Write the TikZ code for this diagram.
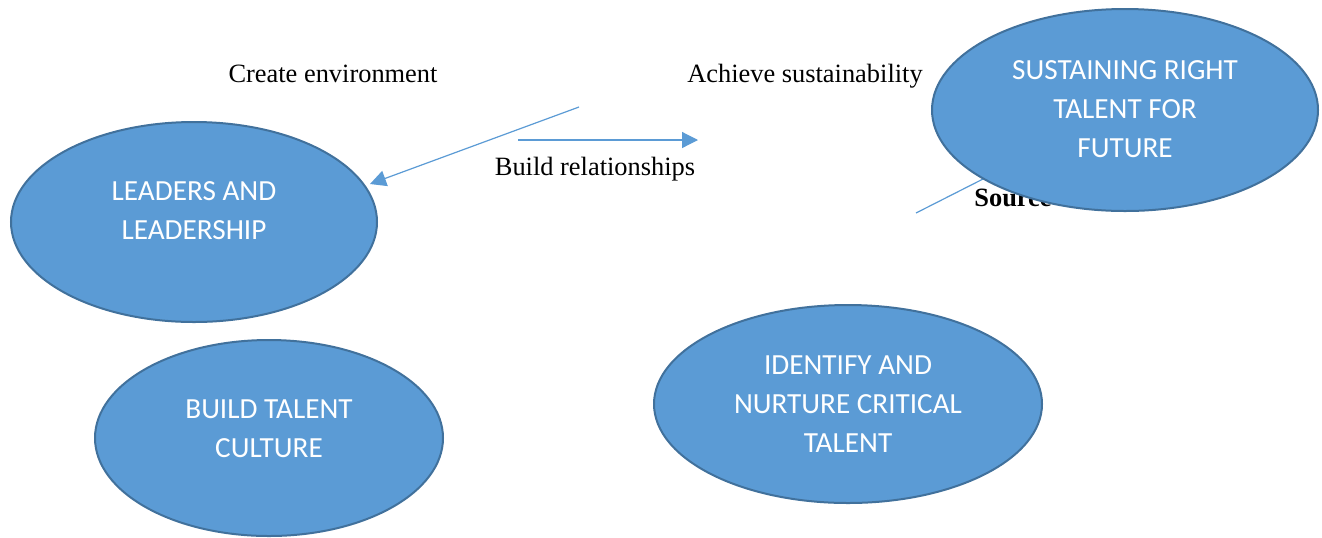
\documentclass[tikz,border=0pt]{standalone}
\usepackage{fontspec}
\setmainfont{Liberation Serif}
\newfontfamily\calib{Carlito}
\usetikzlibrary{shapes.geometric,arrows.meta}
\definecolor{blobfill}{HTML}{5B9BD5}
\definecolor{blobline}{HTML}{41719C}
\definecolor{linkblue}{HTML}{5B9BD5}
\tikzset{
  blob/.style={ellipse,draw=blobline,fill=blobfill,line width=1pt,inner sep=0pt},
  blobtext/.style={align=center,text=white,font=\calib\fontsize{14.6pt}{19.5pt}\selectfont},
  caption/.style={anchor=base,inner sep=0pt,font=\fontsize{13.2pt}{15pt}\selectfont},
  link/.style={draw=linkblue,line width=0.6pt},
  tip/.style={-{Triangle[length=8pt,width=8pt]}}
}
\begin{document}
\begin{tikzpicture}[x=0.5pt,y=-0.5pt]
\useasboundingbox (0,0) rectangle (1322,537);
\fill[white] (0,0) rectangle (1322,537);

% labels along the links
\node[caption] (create) at (333,82) {Create environment};
\node[caption] (achieve) at (805,82) {Achieve sustainability};
\node[caption] (build) at (595,175) {Build relationships};
\node[caption,anchor=base west,font=\bfseries\fontsize{13.2pt}{15pt}\selectfont] (source) at (974,206) {Source};

% link endpoints
\coordinate (a1s) at (579,107);
\coordinate (a1e) at (370,184);
\coordinate (a2s) at (518,140);
\coordinate (a2e) at (698,140);
\coordinate (l3s) at (916,213);
\coordinate (l3e) at (985,178);

% links
\draw[link,tip] (a1s) -- (a1e);
\draw[link,tip] (a2s) -- (a2e);
\draw[link] (l3s) -- (l3e);

% ellipses
\node[blob,minimum width=183pt,minimum height=100pt] (lead) at (194,222) {};
\node[blob,minimum width=174pt,minimum height=98pt] (culture) at (269,438) {};
\node[blob,minimum width=194pt,minimum height=99pt] (identify) at (848,404) {};
\node[blob,minimum width=193pt,minimum height=101pt] (sustain) at (1125,110) {};

% ellipse texts
\node[blobtext] (leadtxt) at (194,211) {LEADERS AND\\LEADERSHIP};
\node[blobtext] (culturetxt) at (269,429) {BUILD TALENT\\CULTURE};
\node[blobtext] (identifytxt) at (848,404) {IDENTIFY AND\\NURTURE CRITICAL\\TALENT};
\node[blobtext] (sustaintxt) at (1125,109) {SUSTAINING RIGHT\\TALENT FOR\\FUTURE};
\end{tikzpicture}
\end{document}
